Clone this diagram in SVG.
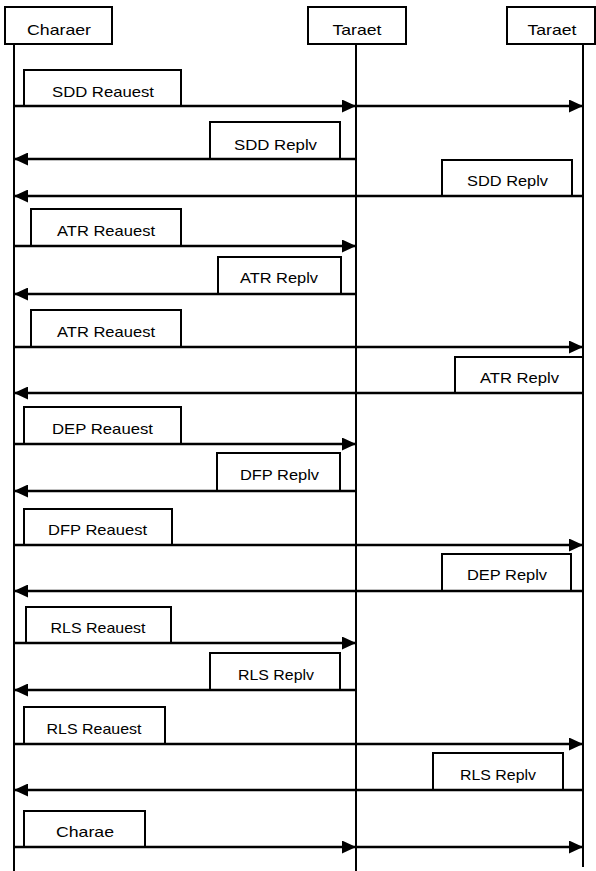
<svg xmlns="http://www.w3.org/2000/svg" width="596" height="871" viewBox="0 0 596 871">
<style>
.box{fill:#fff;stroke:#000;stroke-width:2}
.life{stroke:#000;stroke-width:2;fill:none}
.msg{stroke:#000;stroke-width:2.5;fill:none;marker-end:url(#ah)}
text{font-family:"Liberation Sans",Arial,sans-serif;font-size:15px;fill:#000;text-anchor:middle}
</style>
<defs>
<marker id="ah" markerUnits="userSpaceOnUse" markerWidth="14" markerHeight="13" refX="14" refY="6.5" orient="auto">
<path d="M0,0 L14,6.5 L0,13 z" fill="#000"/>
</marker>
</defs>
<rect width="596" height="871" fill="#fff"/>
<g id="charger">
<rect class="box" x="5" y="7" width="107" height="37"/>
<text x="59" y="35" textLength="64" lengthAdjust="spacingAndGlyphs">Charaer</text>
<line class="life" x1="14" y1="44" x2="14" y2="871"/>
</g>
<g id="target1">
<rect class="box" x="308" y="7" width="98" height="37"/>
<text x="357" y="35" textLength="49" lengthAdjust="spacingAndGlyphs">Taraet</text>
<line class="life" x1="356" y1="44" x2="356" y2="871"/>
</g>
<g id="target2">
<rect class="box" x="507" y="7" width="88" height="37"/>
<text x="552" y="35" textLength="49" lengthAdjust="spacingAndGlyphs">Taraet</text>
<line class="life" x1="583" y1="44" x2="583" y2="867"/>
</g>
<g id="m1"><rect class="box" x="24" y="70" width="157" height="36"/><text x="103" y="97" textLength="102" lengthAdjust="spacingAndGlyphs">SDD Reauest</text></g>
<g id="m2"><rect class="box" x="210" y="122" width="130" height="37"/><text x="275.5" y="150" textLength="83" lengthAdjust="spacingAndGlyphs">SDD Replv</text></g>
<g id="m3"><rect class="box" x="442" y="160" width="130" height="36"/><text x="507.5" y="186" textLength="81" lengthAdjust="spacingAndGlyphs">SDD Replv</text></g>
<g id="m4"><rect class="box" x="31" y="209" width="150" height="37"/><text x="106" y="236" textLength="98" lengthAdjust="spacingAndGlyphs">ATR Reauest</text></g>
<g id="m5"><rect class="box" x="218" y="257" width="123" height="37"/><text x="279" y="283" textLength="78" lengthAdjust="spacingAndGlyphs">ATR Replv</text></g>
<g id="m6"><rect class="box" x="31" y="310" width="150" height="37"/><text x="106" y="337" textLength="98" lengthAdjust="spacingAndGlyphs">ATR Reauest</text></g>
<g id="m7"><rect class="box" x="455" y="357" width="128" height="36"/><text x="519.5" y="383" textLength="79" lengthAdjust="spacingAndGlyphs">ATR Replv</text></g>
<g id="m8"><rect class="box" x="24" y="407" width="157" height="37"/><text x="102.5" y="434" textLength="101" lengthAdjust="spacingAndGlyphs">DEP Reauest</text></g>
<g id="m9"><rect class="box" x="217" y="453" width="123" height="38"/><text x="279.5" y="480" textLength="79" lengthAdjust="spacingAndGlyphs">DFP Replv</text></g>
<g id="m10"><rect class="box" x="24" y="509" width="148" height="36"/><text x="97.5" y="535" textLength="99" lengthAdjust="spacingAndGlyphs">DFP Reauest</text></g>
<g id="m11"><rect class="box" x="442" y="554" width="129" height="37"/><text x="507" y="580" textLength="80" lengthAdjust="spacingAndGlyphs">DEP Replv</text></g>
<g id="m12"><rect class="box" x="26" y="607" width="145" height="36"/><text x="98" y="633" textLength="95" lengthAdjust="spacingAndGlyphs">RLS Reauest</text></g>
<g id="m13"><rect class="box" x="210" y="653" width="130" height="37"/><text x="276" y="680" textLength="76" lengthAdjust="spacingAndGlyphs">RLS Replv</text></g>
<g id="m14"><rect class="box" x="24" y="707" width="141" height="37"/><text x="94" y="734" textLength="95" lengthAdjust="spacingAndGlyphs">RLS Reauest</text></g>
<g id="m15"><rect class="box" x="433" y="753" width="130" height="37"/><text x="498" y="780" textLength="76" lengthAdjust="spacingAndGlyphs">RLS Replv</text></g>
<g id="m16"><rect class="box" x="24" y="811" width="121" height="36"/><text x="85" y="837" textLength="58" lengthAdjust="spacingAndGlyphs">Charae</text></g>
<g id="connectors">
<line class="msg" x1="14" y1="106" x2="356" y2="106"/>
<line class="msg" x1="356" y1="106" x2="583" y2="106"/>
<line class="msg" x1="356" y1="159" x2="14" y2="159"/>
<line class="msg" x1="583" y1="196" x2="14" y2="196"/>
<line class="msg" x1="14" y1="246" x2="356" y2="246"/>
<line class="msg" x1="356" y1="294" x2="14" y2="294"/>
<line class="msg" x1="14" y1="347" x2="583" y2="347"/>
<line class="msg" x1="583" y1="393" x2="14" y2="393"/>
<line class="msg" x1="14" y1="444" x2="356" y2="444"/>
<line class="msg" x1="356" y1="491" x2="14" y2="491"/>
<line class="msg" x1="14" y1="545" x2="583" y2="545"/>
<line class="msg" x1="583" y1="591" x2="14" y2="591"/>
<line class="msg" x1="14" y1="643" x2="356" y2="643"/>
<line class="msg" x1="356" y1="690" x2="14" y2="690"/>
<line class="msg" x1="14" y1="744" x2="583" y2="744"/>
<line class="msg" x1="583" y1="790" x2="14" y2="790"/>
<line class="msg" x1="14" y1="847" x2="356" y2="847"/>
<line class="msg" x1="356" y1="847" x2="583" y2="847"/>
</g>
</svg>
